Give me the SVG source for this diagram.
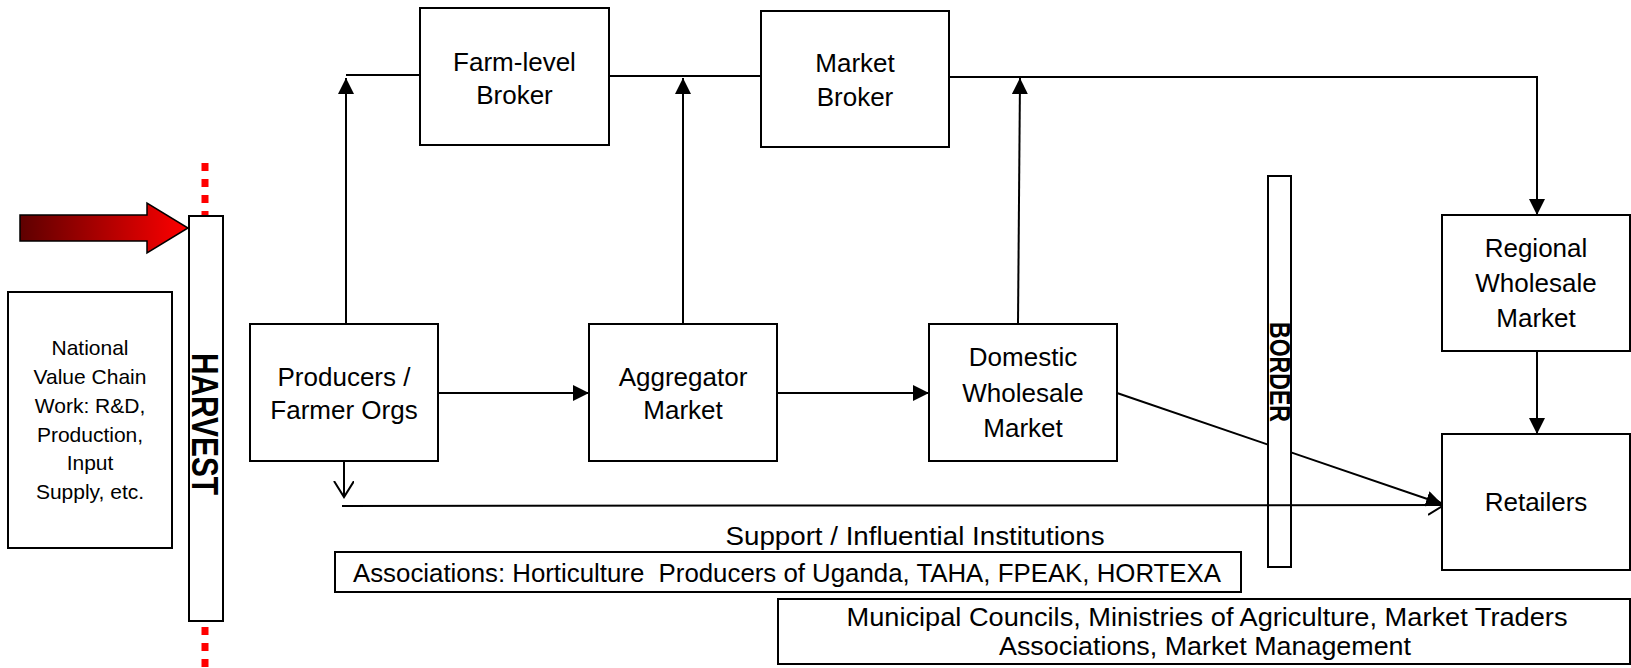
<svg xmlns="http://www.w3.org/2000/svg" width="1631" height="668" viewBox="0 0 1631 668">
<style>
.box{fill:#fff;stroke:#000;stroke-width:2}
.t{font-family:"Liberation Sans",Arial,sans-serif;font-size:26px;fill:#000;text-anchor:middle}
.s{font-size:21px}
.c{fill:none;stroke:#000;stroke-width:2}
.bold{font-weight:bold}
</style>
<defs>
<marker id="fa" markerUnits="userSpaceOnUse" markerWidth="16" markerHeight="16" refX="16" refY="8" orient="auto">
<path d="M0,0 L16,8 L0,16 z" fill="#000"/>
</marker>
<marker id="oa" markerUnits="userSpaceOnUse" markerWidth="18" markerHeight="22" refX="16" refY="10" orient="auto">
<path d="M0,0 L16,10 L0,20" fill="none" stroke="#000" stroke-width="2"/>
</marker>
<linearGradient id="rg" x1="0" y1="0" x2="1" y2="0">
<stop offset="0" stop-color="#5e0000"/>
<stop offset="1" stop-color="#ff0000"/>
</linearGradient>
</defs>
<rect width="1631" height="668" fill="#fff"/>

<g id="harvest-divider">
<line x1="205" y1="163" x2="205" y2="668" stroke="#ff0000" stroke-width="7" stroke-dasharray="8 8"/>
<polygon points="20,215 147,215 147,203 188,228 147,253 147,241 20,241" fill="url(#rg)" stroke="#000" stroke-width="1.5"/>
<rect class="box" x="189" y="216" width="34" height="405"/>
<text class="t bold" transform="translate(205,424) rotate(90)" y="13" style="font-size:36px" textLength="142" lengthAdjust="spacingAndGlyphs">HARVEST</text>
</g>

<g id="national">
<rect class="box" x="8" y="292" width="164" height="256"/>
<text class="t s" x="90" y="355">National</text>
<text class="t s" x="90" y="384">Value Chain</text>
<text class="t s" x="90" y="413">Work: R&amp;D,</text>
<text class="t s" x="90" y="442">Production,</text>
<text class="t s" x="90" y="470">Input</text>
<text class="t s" x="90" y="499">Supply, etc.</text>
</g>

<g id="border">
<rect class="box" x="1268" y="176" width="23" height="391"/>
<text class="t bold" transform="translate(1279.5,372) rotate(90)" y="10" style="font-size:29px" textLength="100" lengthAdjust="spacingAndGlyphs">BORDER</text>
</g>

<g id="connectors">
<path class="c" d="M346,75 L420,75"/>
<path class="c" d="M609,76 L761,76"/>
<path class="c" d="M949,77 L1537,77 L1537,215" marker-end="url(#fa)"/>
<path class="c" d="M346,324 L346,78" marker-end="url(#fa)"/>
<path class="c" d="M683,324 L683,78" marker-end="url(#fa)"/>
<path class="c" d="M1018,324 L1020,78" marker-end="url(#fa)"/>
<path class="c" d="M438,393 L589,393" marker-end="url(#fa)"/>
<path class="c" d="M777,393 L929,393" marker-end="url(#fa)"/>
<path class="c" d="M1117,393 L1268,444.6"/>
<path class="c" d="M1291,452.4 L1442,504" marker-end="url(#fa)"/>
<path class="c" d="M1537,351 L1537,434" marker-end="url(#fa)"/>
<path class="c" d="M344,461 L344,497" marker-end="url(#oa)"/>
<path class="c" d="M342,506 L1444,505" marker-end="url(#oa)"/>
</g>

<g id="farm-broker">
<rect class="box" x="420" y="8" width="189" height="137"/>
<text class="t" x="514.5" y="71">Farm-level</text>
<text class="t" x="514.5" y="104">Broker</text>
</g>

<g id="market-broker">
<rect class="box" x="761" y="11" width="188" height="136"/>
<text class="t" x="855" y="72">Market</text>
<text class="t" x="855" y="106">Broker</text>
</g>

<g id="producers">
<rect class="box" x="250" y="324" width="188" height="137"/>
<text class="t" x="344" y="386">Producers /</text>
<text class="t" x="344" y="419">Farmer Orgs</text>
</g>

<g id="aggregator">
<rect class="box" x="589" y="324" width="188" height="137"/>
<text class="t" x="683" y="386">Aggregator</text>
<text class="t" x="683" y="419">Market</text>
</g>

<g id="domestic">
<rect class="box" x="929" y="324" width="188" height="137"/>
<text class="t" x="1023" y="366">Domestic</text>
<text class="t" x="1023" y="402">Wholesale</text>
<text class="t" x="1023" y="437">Market</text>
</g>

<g id="regional">
<rect class="box" x="1442" y="215" width="188" height="136"/>
<text class="t" x="1536" y="257">Regional</text>
<text class="t" x="1536" y="292">Wholesale</text>
<text class="t" x="1536" y="327">Market</text>
</g>

<g id="retailers">
<rect class="box" x="1442" y="434" width="188" height="136"/>
<text class="t" x="1536" y="511">Retailers</text>
</g>

<g id="support">
<text class="t" x="915" y="545" textLength="379" lengthAdjust="spacingAndGlyphs">Support / Influential Institutions</text>
</g>

<g id="associations">
<rect class="box" x="335" y="552" width="906" height="40"/>
<text class="t" x="787" y="582" textLength="868" lengthAdjust="spacingAndGlyphs" xml:space="preserve" style="white-space:pre">Associations: Horticulture  Producers of Uganda, TAHA, FPEAK, HORTEXA</text>
</g>

<g id="municipal">
<rect class="box" x="778" y="599" width="852" height="65"/>
<text class="t" x="1207" y="626" textLength="721" lengthAdjust="spacingAndGlyphs">Municipal Councils, Ministries of Agriculture, Market Traders</text>
<text class="t" x="1205" y="655" textLength="412" lengthAdjust="spacingAndGlyphs">Associations, Market Management</text>
</g>
</svg>
